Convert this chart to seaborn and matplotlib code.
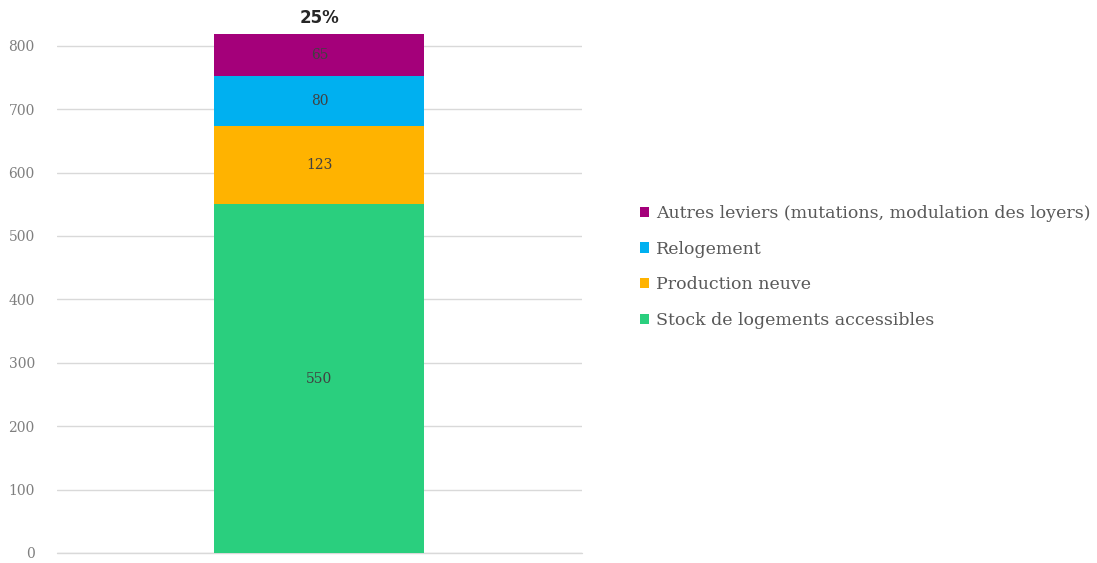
import numpy as np
import matplotlib
matplotlib.use("Agg")
import matplotlib.pyplot as plt
from matplotlib.patches import Patch
import seaborn as sns
import pandas as pd

categories = ["Stock de logements accessibles", "Production neuve", "Relogement",
              "Autres leviers (mutations, modulation des loyers)"]
values = [550, 123, 80, 65]
colors = ["#2ACF7E", "#FFB300", "#00B0F0", "#A4007A"]
total_label = "25%"
yticks = [0, 100, 200, 300, 400, 500, 600, 700, 800]

sns.set_theme(style="white")
plt.rcParams["font.family"] = ["DejaVu Serif", "Liberation Serif"]

fig = plt.figure(figsize=(10.97, 5.63), dpi=100)
ax = fig.add_axes([57 / 1097, 10 / 563, 525 / 1097, 539 / 563])

cum = np.cumsum(values)
bottoms = cum - np.array(values)
# draw from tallest (cumulative) to smallest so the stack shows
for i in range(len(values) - 1, -1, -1):
    df = pd.DataFrame({"x": [""], "y": [cum[i]]})
    sns.barplot(data=df, x="x", y="y", color=colors[i], width=0.4,
                saturation=1, ax=ax, zorder=2, linewidth=0)

for b, v in zip(bottoms, values):
    ax.text(0, b + v / 2, str(v), ha="center", va="center", fontsize=10,
            color="#404040", zorder=3)

ax.annotate(total_label, xy=(0, cum[-1]), xytext=(0, 5), textcoords="offset points",
            ha="center", va="bottom", fontsize=12, fontweight="bold",
            family="DejaVu Sans", color="#262626", annotation_clip=False)

ax.set_ylim(0, 850)
ax.set_xlim(-0.5, 0.5)
ax.set_yticks(yticks)
ax.set_yticklabels([str(t) for t in yticks], fontsize=10, color="#7F7F7F")
ax.tick_params(axis="y", length=0, pad=16)
ax.set_xticks([])
ax.set_xlabel("")
ax.set_ylabel("")
for s in ax.spines.values():
    s.set_visible(False)
ax.yaxis.grid(True, color="#D9D9D9", linewidth=1)
ax.set_axisbelow(True)
ax.axhline(0, color="#D9D9D9", linewidth=1, zorder=1, clip_on=False)

handles = [Patch(facecolor=colors[i], edgecolor="none", label=categories[i])
           for i in range(len(values) - 1, -1, -1)]
fig.legend(handles=handles, loc="center left", bbox_to_anchor=(624 / 1097, 1 - 267 / 563),
           frameon=False, fontsize=12.5, handlelength=0.55, handleheight=0.55,
           handletextpad=0.4, labelspacing=1.08, labelcolor="#595959")

fig.savefig("out.png", dpi=100)
